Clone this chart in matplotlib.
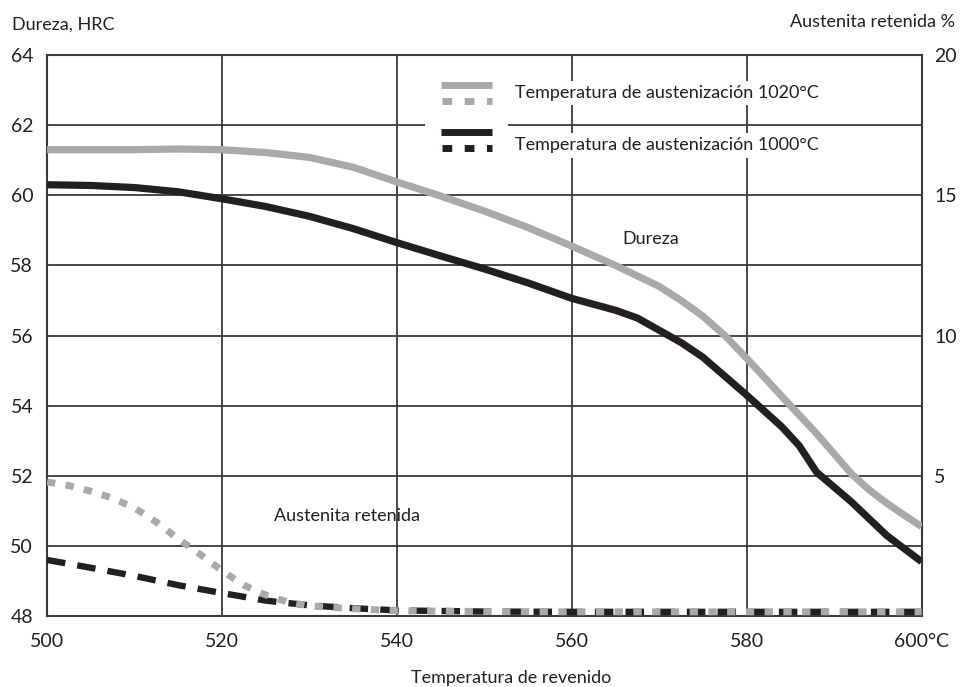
import matplotlib
matplotlib.use("Agg")
import matplotlib.pyplot as plt
from matplotlib.patches import Rectangle

plt.rcParams['font.family'] = ['Lato', 'DejaVu Sans']

GRAY = "#a7a9ac"
BLACK = "#231f20"
GRID = "#3a3a3a"

# Hardness (HRC) vs tempering temperature
temp_hrc_1020 = [500, 505, 510, 515, 520, 525, 530, 535, 540, 545, 550, 555,
                 560, 565, 570, 572.5, 575, 577.5, 580, 585, 588, 592, 594, 596, 598, 600]
hrc_1020 = [61.3, 61.3, 61.3, 61.32, 61.3, 61.22, 61.08, 60.8, 60.38, 59.98, 59.55, 59.08,
            58.55, 58.0, 57.4, 57.0, 56.55, 56.0, 55.35, 54.0, 53.2, 52.05, 51.6, 51.22, 50.88, 50.55]

temp_hrc_1000 = [500, 505, 510, 515, 520, 525, 530, 535, 540, 545, 550, 555,
                 560, 565, 567.5, 570, 572.5, 575, 580, 584, 586, 588, 592, 596, 600]
hrc_1000 = [60.3, 60.28, 60.22, 60.1, 59.9, 59.68, 59.4, 59.05, 58.65, 58.27, 57.9, 57.5,
            57.06, 56.72, 56.5, 56.15, 55.8, 55.38, 54.3, 53.4, 52.86, 52.1, 51.25, 50.3, 49.55]

# Retained austenite (%) vs tempering temperature
temp_aus_1020 = [500, 502.5, 505, 507.5, 510, 512.5, 515, 517.5, 520, 522.5, 525,
                 527.5, 530, 535, 540, 550, 560, 580, 600]
aus_1020 = [4.78, 4.65, 4.45, 4.2, 3.85, 3.35, 2.75, 2.2, 1.62, 1.1, 0.75,
            0.5, 0.36, 0.26, 0.19, 0.16, 0.15, 0.15, 0.15]

temp_aus_1000 = [500, 505, 510, 515, 520, 525, 530, 535, 540, 550, 560, 580, 600]
aus_1000 = [2.0, 1.72, 1.43, 1.1, 0.82, 0.55, 0.38, 0.28, 0.2, 0.16, 0.15, 0.15, 0.15]

x_ticks = [500, 520, 540, 560, 580, 600]
x_ticklabels = ["500", "520", "540", "560", "580", "600°C"]
hrc_ticks = [48, 50, 52, 54, 56, 58, 60, 62, 64]
aus_ticks = [5, 10, 15, 20]

legend_labels = ["Temperatura de austenización 1020°C",
                 "Temperatura de austenización 1000°C"]

FS_TICK = 14
FS_TXT = 13

fig = plt.figure(figsize=(9.6, 6.87), dpi=100)
ax = fig.add_axes([0.049, 0.1033, 0.911, 0.8166])
ax.set_xlim(500, 600)
ax.set_ylim(48, 64)
ax.set_xticks(x_ticks)
ax.set_xticklabels(x_ticklabels)
ax.set_yticks(hrc_ticks)
ax.tick_params(axis="both", length=0, labelsize=FS_TICK, colors=BLACK)
ax.tick_params(axis="y", pad=10)
ax.tick_params(axis="x", pad=12)
ax.grid(True, color=GRID, lw=1.3, zorder=1)
ax.set_axisbelow(True)
for s in ax.spines.values():
    s.set_color(GRID)
    s.set_linewidth(1.5)

ax.plot(temp_hrc_1020, hrc_1020, color=GRAY, lw=5.2, solid_capstyle="butt", zorder=3)
ax.plot(temp_hrc_1000, hrc_1000, color=BLACK, lw=5.2, solid_capstyle="butt", zorder=3)

ax.set_xlabel("Temperatura de revenido", fontsize=FS_TXT, color=BLACK, labelpad=13)
ax.xaxis.set_label_coords(0.531, -0.097)

ax2 = ax.twinx()
ax2.set_ylim(0, 20)
ax2.set_yticks(aus_ticks)
ax2.tick_params(axis="y", length=0, labelsize=FS_TICK, colors=BLACK, pad=9)
for s in ax2.spines.values():
    s.set_visible(False)
ax2.plot(temp_aus_1000, aus_1000, color=BLACK, lw=4.6,
         linestyle=(0, (2.9, 1.9)), dash_capstyle="butt", zorder=3)
ax2.plot(temp_aus_1020, aus_1020, color=GRAY, lw=5,
         linestyle=(0, (1.2, 1.5)), dash_capstyle="butt", zorder=4)

# in-plot labels
ax2.text(569, 58.75, "Dureza", transform=ax.transData, fontsize=FS_TXT,
         color=BLACK, ha="center", va="center")
ax2.text(534.3, 50.85, "Austenita retenida", transform=ax.transData, fontsize=FS_TXT,
         color=BLACK, ha="center", va="center")

# legend drawn by hand: solid + dotted swatch stacked per row
ax2.add_patch(Rectangle((0.432, 0.82), 0.095, 0.153, transform=ax.transAxes,
                        facecolor="white", edgecolor="none", zorder=5))
rows = [(GRAY, 0.946, 0.918, 0.932), (BLACK, 0.862, 0.835, 0.839)]
for (col, y_solid, y_dot, y_txt), lab in zip(rows, legend_labels):
    ax2.plot([0.450, 0.509], [y_solid, y_solid], transform=ax.transAxes,
             color=col, lw=5, solid_capstyle="butt", zorder=6)
    ax2.plot([0.452, 0.509], [y_dot, y_dot], transform=ax.transAxes,
             color=col, lw=5, linestyle=(0, (1.4, 1.8)), dash_capstyle="butt", zorder=6)
    ax2.text(0.535, y_txt, lab, transform=ax.transAxes, fontsize=FS_TXT, color=BLACK,
             ha="left", va="center", zorder=6,
             bbox=dict(facecolor="white", edgecolor="none", pad=3))

fig.text(12 / 960, 1 - 25 / 687, "Dureza, HRC", fontsize=FS_TXT, color=BLACK,
         ha="left", va="center")
fig.text(955 / 960, 1 - 22 / 687, "Austenita retenida %", fontsize=FS_TXT, color=BLACK,
         ha="right", va="center")

fig.savefig("out.png", dpi=100)
